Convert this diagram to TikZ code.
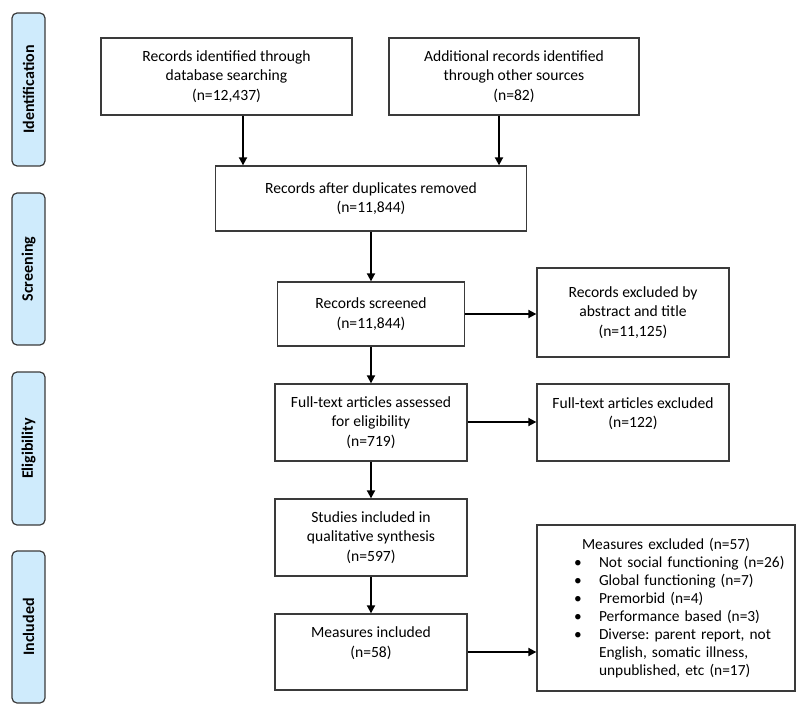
\documentclass[tikz,border=0pt]{standalone}
\usepackage{fontspec}
\setmainfont{Carlito}
\usetikzlibrary{arrows.meta}
\definecolor{phasefill}{HTML}{CFEBFC}
\definecolor{edge}{HTML}{3A3A3A}
\begin{document}
\frenchspacing
\begin{tikzpicture}[x=1pt,y=-1pt,
  every node/.style={font=\fontsize{15.6}{19.5}\selectfont},
  box/.style={draw=edge,line width=1.3pt,inner sep=0pt,align=center},
  phase/.style={draw=edge,line width=1.2pt,fill=phasefill,rounded corners=5pt,
    minimum width=33pt,inner sep=0pt,rotate=90,
    font=\fontsize{16}{18}\selectfont\bfseries},
  arr/.style={line width=1.8pt,draw=black,-{Triangle[length=8pt,width=8pt]}}]
\useasboundingbox (0,0) rectangle (800,714);
% phase labels
\node[phase,minimum width=153pt,minimum height=33pt] (pid) at (28.5,89.5) {Identification};
\node[phase,minimum width=152pt,minimum height=33pt] (psc) at (28.5,269) {Screening};
\node[phase,minimum width=153pt,minimum height=33pt] (pel) at (28.5,448.5) {Eligibility};
\node[phase,minimum width=152pt,minimum height=33pt] (pin) at (28.5,627) {Included};
% boxes
\node[box,minimum width=251pt,minimum height=77pt] (b1) at (226.5,76.5)
  {Records identified through\\database searching\\(n=12,437)};
\node[box,minimum width=250pt,minimum height=77pt] (b2) at (514,76.5)
  {Additional records identified\\through other sources\\(n=82)};
\node[box,minimum width=311pt,minimum height=65pt] (b3) at (371,198.5)
  {Records after duplicates removed\\(n=11,844)};
\node[box,minimum width=187pt,minimum height=64pt] (b4) at (371,314)
  {Records screened\\(n=11,844)};
\node[box,minimum width=192pt,minimum height=89pt] (b5) at (633,312.5)
  {Records excluded by\\abstract and title\\(n=11,125)};
\node[box,minimum width=192pt,minimum height=77pt] (b6) at (371,422.5)
  {Full-text articles assessed\\for eligibility\\(n=719)};
\node[box,minimum width=192pt,minimum height=77pt] (b7) at (633,422.5)
  {Full-text articles excluded\\(n=122)\\\mbox{}};
\node[box,minimum width=192pt,minimum height=77pt] (b8) at (371,537.5)
  {Studies included in\\qualitative synthesis\\(n=597)};
\node[box,minimum width=192pt,minimum height=76pt] (b9) at (371,652)
  {Measures included\\(n=58)\\\mbox{}};
\node[box,minimum width=258pt,minimum height=166pt,text width=258pt,align=left,
  font=\fontsize{15.4}{18}\selectfont] (b10) at (666,608)
  {\makebox[258pt]{Measures excluded (n=57)}\\
   \hspace*{37pt}\makebox[25pt][l]{\textbullet}Not social functioning (n=26)\\
   \hspace*{37pt}\makebox[25pt][l]{\textbullet}Global functioning (n=7)\\
   \hspace*{37pt}\makebox[25pt][l]{\textbullet}Premorbid (n=4)\\
   \hspace*{37pt}\makebox[25pt][l]{\textbullet}Performance based (n=3)\\
   \hspace*{37pt}\makebox[25pt][l]{\textbullet}Diverse: parent report, not\\
   \hspace*{62pt}English, somatic illness,\\
   \hspace*{62pt}unpublished, etc (n=17)};
% connectors
\draw[arr] ([xshift=16.5pt]b1.south) -- ([xshift=16.5pt]b1.south |- b3.north);
\draw[arr] ([xshift=-15pt]b2.south) -- ([xshift=-15pt]b2.south |- b3.north);
\draw[arr] (b3.south) -- (b4.north);
\draw[arr] (b4.east) -- (b4.east -| b5.west);
\draw[arr] (b4.south) -- (b6.north);
\draw[arr] ([yshift=0.5pt]b6.east) -- ([yshift=0.5pt]b6.east -| b7.west);
\draw[arr] (b6.south) -- (b8.north);
\draw[arr] (b8.south) -- (b9.north);
\draw[arr] (b9.east) -- (b9.east -| b10.west);
\end{tikzpicture}
\end{document}
